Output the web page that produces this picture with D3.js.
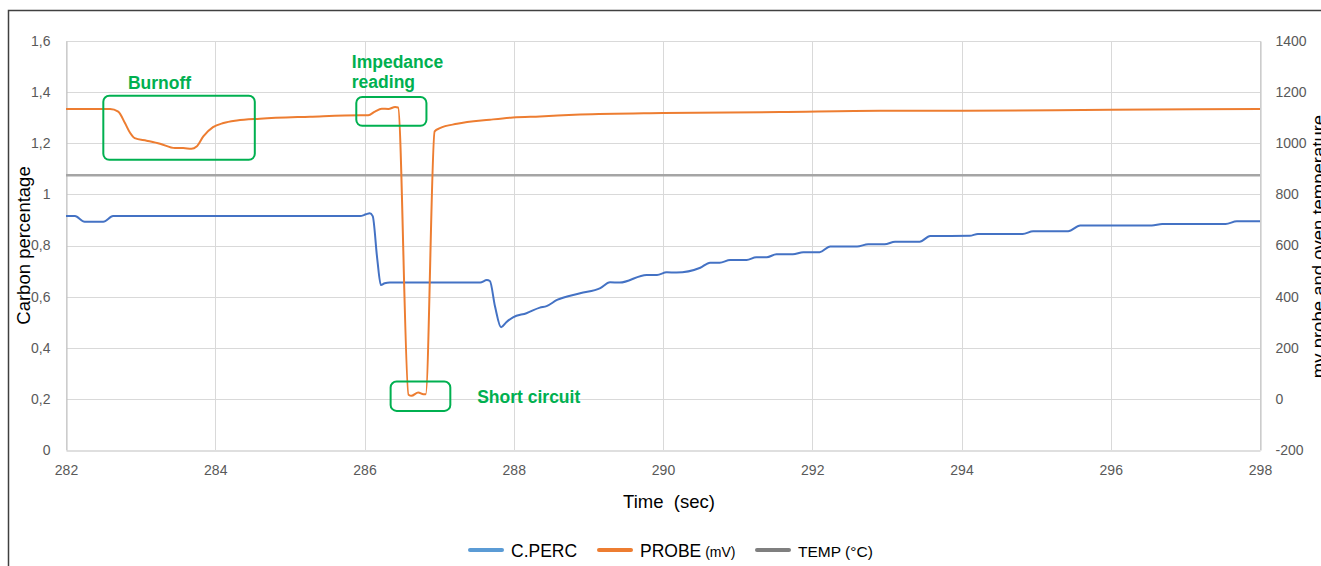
<!DOCTYPE html>
<html>
<head>
<meta charset="utf-8">
<script src="https://cdn.jsdelivr.net/npm/d3@7/dist/d3.min.js"></script>
<style>
  html, body { margin: 0; padding: 0; background: #fff; }
  svg { display: block; }
</style>
</head>
<body>
<svg id="chart" width="1321" height="566"></svg>
<script>
// Time axis (seconds)
const timeTicks = [282, 284, 286, 288, 290, 292, 294, 296, 298];
const leftTicks = [0, 0.2, 0.4, 0.6, 0.8, 1, 1.2, 1.4, 1.6];
const leftTickLabels = ["0", "0,2", "0,4", "0,6", "0,8", "1", "1,2", "1,4", "1,6"];
const rightTicks = [-200, 0, 200, 400, 600, 800, 1000, 1200, 1400];
const rightTickLabels = ["-200", "0", "200", "400", "600", "800", "1000", "1200", "1400"];

// C.PERC — carbon percentage over time
const cpercTime = [282.00, 282.12, 282.25, 282.50, 282.63, 285.94, 286.02, 286.07, 286.11, 286.17, 286.22, 286.27, 286.34,
  287.55, 287.64, 287.68, 287.75, 287.83, 287.90, 287.99, 288.17, 288.35, 288.44, 288.58, 288.89, 289.16, 289.29, 289.42,
  289.78, 289.92, 290.05, 290.18, 290.50, 290.63, 290.76, 290.90, 291.12, 291.25, 291.39, 291.52, 291.74, 291.88, 292.10,
  292.24, 292.60, 292.75, 292.97, 293.11, 293.44, 293.58, 294.11, 294.22, 294.82, 294.96, 295.43, 295.59, 296.55, 296.69,
  297.54, 297.69, 298.00];
const cpercValue = [0.915, 0.915, 0.893, 0.893, 0.915, 0.915, 0.922, 0.926, 0.915, 0.75, 0.645, 0.652, 0.655,
  0.655, 0.665, 0.661, 0.56, 0.48, 0.50, 0.519, 0.535, 0.557, 0.563, 0.587, 0.613, 0.633, 0.656, 0.655,
  0.685, 0.685, 0.695, 0.694, 0.713, 0.733, 0.733, 0.743, 0.743, 0.754, 0.754, 0.766, 0.766, 0.774, 0.774,
  0.796, 0.796, 0.805, 0.805, 0.815, 0.815, 0.837, 0.838, 0.845, 0.845, 0.856, 0.856, 0.878, 0.878, 0.884,
  0.884, 0.895, 0.895];

// PROBE — probe voltage (mV)
const probeTime = [282.00, 282.59, 282.70, 282.79, 282.86, 282.92, 283.08, 283.26, 283.46, 283.57, 283.68, 283.75, 283.84,
  283.97, 284.11, 284.29, 284.60, 285.27, 285.94, 286.05, 286.14, 286.23, 286.32, 286.41, 286.45, 286.59, 286.63, 286.72,
  286.79, 286.82, 286.94, 287.01, 287.24, 287.68, 287.99, 288.35, 288.89, 290.00, 291.57, 292.91, 294.02, 295.99, 298.00];
const probeValue = [1134, 1134, 1124, 1079, 1040, 1020, 1010, 998, 981, 981, 978, 987, 1027,
  1063, 1079, 1089, 1096, 1104, 1110, 1110, 1124, 1135, 1134, 1142, 1140, 16, 12, 25,
  18, 18, 1046, 1059, 1076, 1092, 1101, 1105, 1112, 1118, 1122, 1127, 1127, 1131, 1134];

// TEMP — oven temperature (°C)
const tempTime = [282, 298];
const tempValue = [875, 875];

// Annotated regions, in time (s) and mV: box corners and label anchor
const notes = [
  { lines: ["Burnoff"], t0: 282.50, t1: 284.53, v0: 935, v1: 1186, lt: 282.83, lv: 1213 },
  { lines: ["Impedance", "reading"], t0: 285.89, t1: 286.83, v0: 1068, v1: 1181, lt: 285.83, lv: 1295 },
  { lines: ["Short circuit"], t0: 286.35, t1: 287.15, v0: -47, v1: 68, lt: 287.51, lv: -16 }
];

const colors = { cperc: "#4472C4", probe: "#ED7D31", temp: "#A5A5A5",
  cpercKey: "#5B9BD5", tempKey: "#7F7F7F", note: "#00B050" };

const svg = d3.select("#chart");
const margin = { left: 66, right: 61, top: 41, bottom: 116 };
const W = 1321, H = 566;
const x0 = margin.left, x1 = W - margin.right, y0 = H - margin.bottom, y1 = margin.top;

const x = d3.scaleLinear().domain([282, 298]).range([x0, x1]);
const yL = d3.scaleLinear().domain([0, 1.6]).range([y0, y1]);
const yR = d3.scaleLinear().domain([-200, 1400]).range([y0, y1]);

const textFont = "'Liberation Sans', Arial, sans-serif";

// Outer frame
svg.append("path")
  .attr("d", `M8.5,${H} V10.5 H${W}`)
  .attr("fill", "none").attr("stroke", "#404040").attr("stroke-width", 1.5);

// Gridlines
const grid = svg.append("g");
grid.selectAll("line.h").data(leftTicks.slice(1)).join("line")
  .attr("x1", x0).attr("x2", x1)
  .attr("y1", d => Math.round(yL(d)) + 0.5).attr("y2", d => Math.round(yL(d)) + 0.5)
  .attr("stroke", "#D9D9D9").attr("stroke-width", 1);
grid.selectAll("line.v").data(timeTicks).join("line")
  .attr("y1", y1).attr("y2", y0)
  .attr("x1", d => Math.round(x(d)) + 0.5).attr("x2", d => Math.round(x(d)) + 0.5)
  .attr("stroke", "#D9D9D9").attr("stroke-width", 1);

// Axes
const axisStyle = g => {
  g.select(".domain").attr("stroke", "#BFBFBF");
  g.selectAll(".tick line").remove();
  g.selectAll(".tick text").attr("fill", "#595959").attr("font-family", textFont).attr("font-size", 14);
};
svg.append("g").attr("transform", `translate(0,${y0 + 0.5})`)
  .call(d3.axisBottom(x).tickValues(timeTicks).tickFormat(d3.format("d")).tickSizeOuter(0).tickPadding(9))
  .call(axisStyle);
svg.append("g").attr("transform", `translate(${x0 + 0.5},0)`)
  .call(d3.axisLeft(yL).tickValues(leftTicks).tickFormat((d, i) => leftTickLabels[i]).tickSizeOuter(0).tickPadding(10))
  .call(axisStyle);
svg.append("g").attr("transform", `translate(${x1 + 0.5},0)`)
  .call(d3.axisRight(yR).tickValues(rightTicks).tickFormat((d, i) => rightTickLabels[i]).tickSizeOuter(0).tickPadding(9))
  .call(axisStyle);

// Axis titles
svg.append("text").attr("transform", `translate(30,${(y0 + y1) / 2}) rotate(-90)`)
  .attr("text-anchor", "middle").attr("font-family", textFont).attr("font-size", 18.5).attr("fill", "#000")
  .text("Carbon percentage");
svg.append("text").attr("transform", `translate(1325,${(y0 + y1) / 2 + 1}) rotate(-90)`)
  .attr("text-anchor", "middle").attr("font-family", textFont).attr("font-size", 18.5).attr("fill", "#000")
  .text("mv probe and oven temperature");
svg.append("text").attr("x", 669).attr("y", 508)
  .attr("text-anchor", "middle").attr("font-family", textFont).attr("font-size", 18.5).attr("fill", "#000")
  .attr("xml:space", "preserve")
  .text("Time  (sec)");

// Series lines
const lineL = d3.line().x(d => x(d[0])).y(d => yL(d[1])).curve(d3.curveMonotoneX);
const lineR = d3.line().x(d => x(d[0])).y(d => yR(d[1])).curve(d3.curveMonotoneX);

svg.append("path").datum(tempTime.map((t, i) => [t, tempValue[i]]))
  .attr("d", lineR).attr("fill", "none").attr("stroke", colors.temp).attr("stroke-width", 2.5);
svg.append("path").datum(cpercTime.map((t, i) => [t, cpercValue[i]]))
  .attr("d", lineL).attr("fill", "none").attr("stroke", colors.cperc).attr("stroke-width", 2)
  .attr("stroke-linejoin", "round");
svg.append("path").datum(probeTime.map((t, i) => [t, probeValue[i]]))
  .attr("d", lineR).attr("fill", "none").attr("stroke", colors.probe).attr("stroke-width", 2)
  .attr("stroke-linejoin", "round");

// Annotations
const ann = svg.append("g");
notes.forEach(n => {
  ann.append("rect")
    .attr("x", x(n.t0)).attr("y", yR(n.v1))
    .attr("width", x(n.t1) - x(n.t0)).attr("height", yR(n.v0) - yR(n.v1))
    .attr("rx", 6).attr("ry", 6)
    .attr("fill", "none").attr("stroke", colors.note).attr("stroke-width", 2);
  const t = ann.append("text").attr("x", x(n.lt)).attr("y", yR(n.lv))
    .attr("font-family", textFont).attr("font-weight", "bold")
    .attr("font-size", 17.5).attr("fill", colors.note);
  n.lines.forEach((s, i) => t.append("tspan").attr("x", x(n.lt)).attr("dy", i ? 20 : 0).text(s));
});

// Legend
const legendItems = [
  { key: colors.cpercKey, x: 468, tx: 511, parts: [["C.PERC", 17.5]] },
  { key: colors.probe, x: 597, tx: 640, parts: [["PROBE", 17.5], [" (mV)", 14]] },
  { key: colors.tempKey, x: 755, tx: 798, parts: [["TEMP (°C)", 15.5]] }
];
const lg = svg.append("g");
legendItems.forEach(it => {
  lg.append("line").attr("x1", it.x + 2).attr("x2", it.x + 34).attr("y1", 550).attr("y2", 550)
    .attr("stroke", it.key).attr("stroke-width", 4).attr("stroke-linecap", "round");
  const t = lg.append("text").attr("x", it.tx).attr("y", 556.5)
    .attr("font-family", textFont).attr("fill", "#000");
  it.parts.forEach(p => t.append("tspan").attr("font-size", p[1]).text(p[0]));
});
</script>
</body>
</html>
